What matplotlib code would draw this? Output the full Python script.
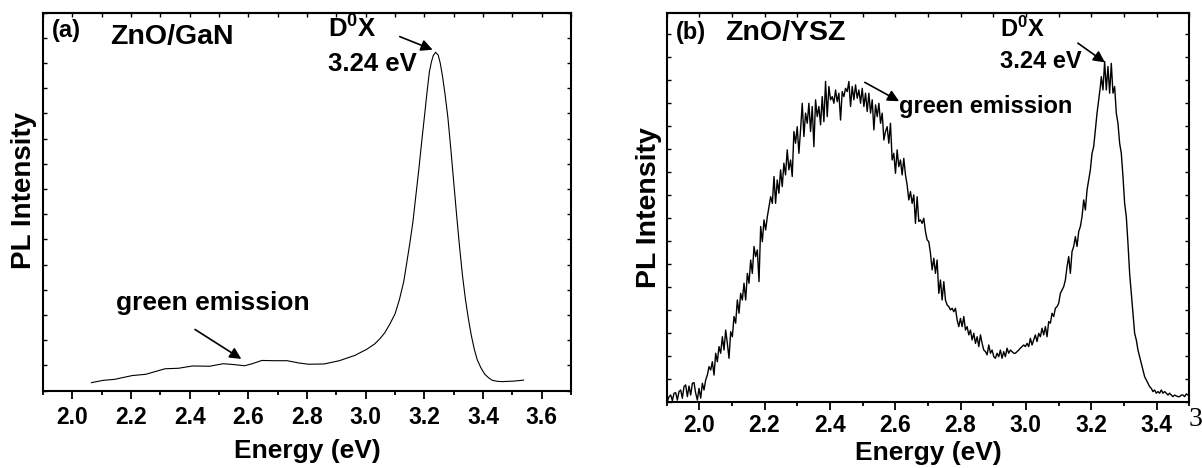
import numpy as np
import matplotlib

matplotlib.use("Agg")
import matplotlib.pyplot as plt
from matplotlib.ticker import MultipleLocator, NullFormatter, FormatStrFormatter

# ---- panel (a): ZnO/GaN, smooth spectrum (arb. units)
energy_a = [2.065, 2.105, 2.144, 2.204, 2.25, 2.316, 2.362, 2.409, 2.468, 2.514,
            2.547, 2.587, 2.613, 2.646, 2.686, 2.732, 2.772, 2.805, 2.858, 2.91,
            2.963, 3.003, 3.03, 3.049, 3.065, 3.082, 3.10, 3.115, 3.13, 3.141,
            3.151, 3.161, 3.171, 3.181, 3.191, 3.201, 3.209, 3.217, 3.224, 3.230,
            3.238, 3.247, 3.254, 3.261, 3.27, 3.28, 3.29, 3.30, 3.31, 3.32,
            3.33, 3.34, 3.35, 3.36, 3.37, 3.38, 3.393, 3.406, 3.42, 3.432,
            3.45, 3.465, 3.505, 3.538]
pl_a = [0.32, 0.41, 0.45, 0.60, 0.65, 0.87, 0.89, 0.98, 0.97, 1.07,
        1.04, 0.99, 1.07, 1.20, 1.19, 1.19, 1.10, 1.05, 1.06, 1.19,
        1.40, 1.64, 1.85, 2.07, 2.30, 2.64, 3.05, 3.62, 4.35, 5.16,
        5.90, 6.71, 7.75, 8.78, 9.90, 10.97, 11.85, 12.65, 13.05, 13.29,
        13.43, 13.32, 13.00, 12.53, 11.80, 10.85, 9.60, 8.27, 6.95, 5.69,
        4.55, 3.62, 2.85, 2.19, 1.65, 1.23, 0.90, 0.65, 0.50, 0.41,
        0.37, 0.36, 0.38, 0.42]

# ---- panel (b): ZnO/YSZ, noisy spectrum on a 0.0051 eV grid, read in five pieces
E_STEP = 0.0051
seg_start_b = [1.9026, 2.2338, 2.5702, 2.9066, 3.2308]
pl_b_1 = [0.00, 0.22, 0.29, 0.05, 0.37, 0.39, 0.07, 0.44, 0.51, 0.15,
          0.66, 0.73, 0.22, 0.68, 0.29, 0.80, 0.83, 0.37, 0.07, 0.58,
          0.15, 0.80, 0.51, 0.95, 1.16, 1.53, 1.38, 1.74, 1.16, 2.11,
          1.74, 2.40, 2.11, 2.83, 2.25, 3.12, 2.54, 1.89, 3.05, 2.83,
          3.71, 3.42, 4.43, 3.85, 4.72, 4.43, 5.16, 4.43, 5.59, 5.16,
          6.17, 5.59, 6.76, 6.32, 6.61, 5.23, 7.63, 6.97, 7.92, 7.48,
          8.06, 8.50, 8.93, 8.64, 9.81]
pl_b_2 = [8.64, 9.66, 9.08, 10.10, 9.37, 10.39, 9.88, 10.97, 10.10, 10.53,
          9.81, 11.77, 11.26, 11.98, 10.82, 11.84, 13.00, 11.55, 12.57, 12.13,
          13.00, 11.77, 12.86, 11.11, 13.15, 12.42, 12.86, 12.06, 13.29, 12.20,
          13.95, 12.42, 13.73, 13.15, 13.29, 13.00, 13.58, 13.07, 13.44, 12.27,
          13.51, 13.29, 13.65, 13.51, 13.95, 12.86, 13.73, 13.15, 13.80, 13.22,
          13.58, 13.00, 13.65, 12.86, 13.44, 12.64, 13.44, 12.57, 13.15, 11.84,
          12.93, 12.42, 13.00, 12.13, 12.57, 11.40]
pl_b_3 = [11.77, 11.98, 11.26, 12.13, 10.53, 10.82, 9.95, 10.97, 10.24, 10.53,
          9.88, 10.60, 9.88, 9.44, 8.79, 9.15, 8.64, 9.01, 7.77, 8.93,
          7.85, 7.92, 7.77, 7.99, 7.41, 7.05, 6.97, 6.47, 5.74, 6.25,
          5.59, 6.17, 4.72, 5.30, 4.43, 5.23, 4.43, 4.21, 4.14, 4.00,
          4.07, 3.92, 4.07, 3.56, 3.27, 3.63, 3.27, 3.71, 3.12, 3.27,
          2.91, 3.12, 2.69, 2.98, 2.54, 2.83, 2.40, 2.91, 2.54, 2.25,
          2.18, 2.04, 2.47, 2.11, 2.25, 1.96]
pl_b_4 = [1.89, 2.11, 1.96, 2.25, 1.89, 2.18, 1.96, 2.33, 2.11, 2.25,
          2.18, 2.11, 2.11, 2.18, 2.25, 2.33, 2.40, 2.47, 2.40, 2.54,
          2.40, 2.76, 2.47, 2.69, 2.91, 2.62, 2.98, 2.83, 3.20, 2.91,
          3.27, 2.83, 3.49, 3.42, 3.85, 3.71, 4.07, 4.14, 4.29, 4.72,
          4.87, 5.01, 5.30, 5.88, 6.32, 5.59, 6.54, 6.76, 7.19, 6.76,
          7.41, 7.63, 8.06, 8.79, 8.35, 9.22, 9.66, 10.10, 10.82, 11.11,
          11.84, 12.57, 13.15, 13.73]
pl_b_5 = [14.16, 13.58, 14.82, 13.58, 14.60, 13.44, 14.74, 13.44, 13.73, 12.57,
          12.13, 11.26, 10.82, 9.81, 8.64, 8.06, 6.90, 5.59, 4.72, 3.85,
          2.98, 2.69, 2.25, 1.96, 1.67, 1.38, 1.09, 0.95, 0.80, 0.66,
          0.58, 0.44, 0.51, 0.37, 0.44, 0.37, 0.51, 0.37, 0.44, 0.37,
          0.29, 0.37, 0.29, 0.22, 0.29, 0.25, 0.22, 0.22, 0.29, 0.29,
          0.22, 0.34, 0.29]


def style_axes(ax, xlim, ylim, ylabel_size, ylabel_pad, tick_pad, xlabel_pad):
    ax.set_xlim(*xlim)
    ax.set_ylim(*ylim)
    ax.xaxis.set_major_locator(MultipleLocator(0.2))
    ax.xaxis.set_minor_locator(MultipleLocator(0.1))
    ax.xaxis.set_major_formatter(FormatStrFormatter("%.1f"))
    ax.yaxis.set_major_locator(MultipleLocator(1))
    ax.yaxis.set_major_formatter(NullFormatter())
    ax.tick_params(axis="x", which="major", direction="out", length=6, width=1.3,
                   labelsize=16.5, pad=tick_pad)
    ax.tick_params(axis="x", which="minor", direction="out", length=3, width=1.3)
    ax.tick_params(axis="y", which="major", direction="in", length=3, width=1,
                   left=True, right=True)
    top = ax.secondary_xaxis("top")
    top.xaxis.set_major_locator(MultipleLocator(0.1))
    top.xaxis.set_major_formatter(NullFormatter())
    top.tick_params(direction="in", length=3, width=1)
    ax.set_xlabel("Energy (eV)", fontsize=19, labelpad=xlabel_pad)
    ax.set_ylabel("PL Intensity", fontsize=ylabel_size, labelpad=ylabel_pad)


def main():
    plt.rcParams.update(
        {
            "font.family": "Liberation Sans",
            "font.weight": "bold",
            "axes.labelweight": "bold",
            "axes.linewidth": 1.5,
            "mathtext.fontset": "custom",
            "mathtext.rm": "Liberation Sans:bold",
            "mathtext.bf": "Liberation Sans:bold",
            "mathtext.it": "Liberation Sans:bold",
        }
    )

    fig = plt.figure(figsize=(12.02, 4.68), dpi=100)
    ax_a = fig.add_axes([0.0358, 0.1652, 0.4393, 0.8077])
    ax_b = fig.add_axes([0.5545, 0.1417, 0.4349, 0.8299])

    arrow = dict(arrowstyle="-|>", color="k", lw=1.2, mutation_scale=17,
                 shrinkA=0, shrinkB=0)

    # (a)
    ax_a.plot(energy_a, pl_a, color="k", lw=0.8)
    style_axes(ax_a, (1.9, 3.7), (0, 15), 20, 0, 5, 7)
    ax_a.yaxis.set_label_coords(-0.012, 0.53)
    ax_a.text(0.017, 0.935, "(a)", transform=ax_a.transAxes, fontsize=17)
    ax_a.text(0.127, 0.918, "ZnO/GaN", transform=ax_a.transAxes, fontsize=20.5)
    ax_a.text(0.54, 0.934, r"D$^0$X", transform=ax_a.transAxes, fontsize=18.5)
    ax_a.text(0.54, 0.847, "3.24 eV", transform=ax_a.transAxes, fontsize=18.5)
    ax_a.text(0.138, 0.214, "green emission", transform=ax_a.transAxes, fontsize=19)
    ax_a.annotate("", xy=(3.228, 13.53), xytext=(3.116, 14.05), arrowprops=arrow)
    ax_a.annotate("", xy=(2.576, 1.26), xytext=(2.418, 2.43), arrowprops=arrow)

    # (b)
    energy_b = np.concatenate(
        [start + E_STEP * np.arange(len(vals))
         for start, vals in zip(seg_start_b, [pl_b_1, pl_b_2, pl_b_3, pl_b_4, pl_b_5])]
    )
    pl_b = np.concatenate([pl_b_1, pl_b_2, pl_b_3, pl_b_4, pl_b_5])
    ax_b.plot(energy_b, pl_b, color="k", lw=1.0)
    style_axes(ax_b, (1.9, 3.5), (0, 16.92), 20.5, 0, 3, 3)
    ax_b.text(0.017, 0.933, "(b)", transform=ax_b.transAxes, fontsize=17)
    ax_b.text(0.113, 0.931, "ZnO/YSZ", transform=ax_b.transAxes, fontsize=20.5)
    ax_b.text(0.637, 0.938, r"D$^0$X", transform=ax_b.transAxes, fontsize=17)
    ax_b.text(0.637, 0.859, "3.24 eV", transform=ax_b.transAxes, fontsize=17)
    ax_b.text(0.445, 0.743, "green emission", transform=ax_b.transAxes, fontsize=17)
    ax_b.annotate("", xy=(3.242, 14.78), xytext=(3.159, 15.62), arrowprops=arrow)
    ax_b.annotate("", xy=(2.612, 13.09), xytext=(2.507, 13.91), arrowprops=arrow)

    # stray page-number glyph at the right edge of the original
    fig.text(1.0, 1 - 420 / 468, "3", family="Liberation Serif",
             fontweight="normal", fontsize=20, va="center", ha="right")

    fig.savefig("out.png", dpi=100)


if __name__ == "__main__":
    main()
